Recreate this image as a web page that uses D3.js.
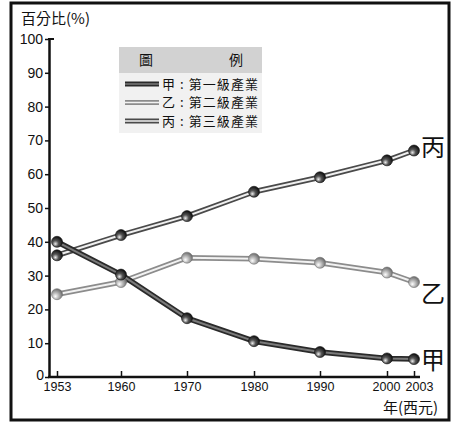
<!DOCTYPE html>
<html lang="zh-Hant">
<head>
  <meta charset="UTF-8">
  <title>產業結構變化</title>
  <script src="https://d3js.org/d3.v7.min.js"></script>
  <style>
    body, html {
      margin: 0;
      padding: 0;
      overflow: hidden;
      background: #fff;
    }
    text {
      font-family: "Noto Sans CJK TC", "Liberation Sans", sans-serif;
      fill: #111;
    }
  </style>
</head>
<body>
  <svg width="457" height="426"></svg>
  <script>
    // Data
    const years = [1953, 1960, 1970, 1980, 1990, 2000, 2003];
    const primary = [40, 30.3, 17.4, 10.6, 7.4, 5.5, 5.3];    // 甲
    const secondary = [24.5, 28.1, 35.3, 35.0, 33.8, 30.9, 28.1]; // 乙
    const tertiary = [36, 42, 47.6, 54.8, 59.1, 64.1, 67];     // 丙
    const yTicks = [0, 10, 20, 30, 40, 50, 60, 70, 80, 90, 100];
    const seriesNames = ['甲', '乙', '丙'];
    const legendLabels = ['甲 : 第一級產業', '乙 : 第二級產業', '丙 : 第三級產業'];

    const series = [
      { name: '甲', values: primary, outer: '#2a2a2a', inner: '#7a7a7a', ball: ['#eeeeee', '#555', '#111'] },
      { name: '乙', values: secondary, outer: '#8c8c8c', inner: '#f2f2f2', ball: ['#ffffff', '#bdbdbd', '#6e6e6e'] },
      { name: '丙', values: tertiary, outer: '#4a4a4a', inner: '#f0f0f0', ball: ['#eeeeee', '#555', '#111'] }
    ];

    const svg = d3.select('svg');

    // Outer frame
    svg.append('rect')
      .attr('x', 11).attr('y', 3)
      .attr('width', 438).attr('height', 417)
      .attr('fill', 'none').attr('stroke', '#111').attr('stroke-width', 3);

    // Scales: the year axis is not evenly spaced in the original
    const x = d3.scaleLinear()
      .domain(years)
      .range([57, 121, 187, 254, 320, 387, 414]);
    const y = d3.scaleLinear().domain([0, 100]).range([377, 39]);

    // Gradients for the ball markers
    const defs = svg.append('defs');
    series.forEach((s, i) => {
      const g = defs.append('radialGradient')
        .attr('id', 'ball' + i)
        .attr('cx', '40%').attr('cy', '62%').attr('r', '60%')
        .attr('fx', '35%').attr('fy', '70%');
      g.append('stop').attr('offset', '0%').attr('stop-color', s.ball[0]);
      g.append('stop').attr('offset', '45%').attr('stop-color', s.ball[1]);
      g.append('stop').attr('offset', '100%').attr('stop-color', s.ball[2]);
    });

    // Y axis
    const yAxis = svg.append('g')
      .attr('transform', 'translate(49,0)')
      .call(d3.axisLeft(y).tickValues(yTicks).tickSize(4).tickSizeOuter(0));
    yAxis.select('.domain').attr('stroke', '#111').attr('stroke-width', 2.5);
    yAxis.selectAll('.tick line').attr('stroke', '#111').attr('stroke-width', 1.5);
    yAxis.selectAll('.tick text')
      .attr('x', -6)
      .style('font-family', '"Liberation Sans", Arial, sans-serif')
      .style('font-size', '14px')
      .attr('fill', '#111');
    // the zero sits low, just left of the first year
    yAxis.selectAll('.tick').filter(d => d === 0).select('text')
      .attr('x', -5).attr('dy', '0.2em');
    // little hook at the top of the axis
    svg.append('line')
      .attr('x1', 48).attr('x2', 54)
      .attr('y1', y(100)).attr('y2', y(100))
      .attr('stroke', '#111').attr('stroke-width', 2);

    // X axis, ticks pointing up
    const xAxis = svg.append('g')
      .attr('transform', 'translate(0,' + y(0) + ')')
      .call(d3.axisBottom(x).tickValues(years).tickFormat(d3.format('d')).tickSize(-6).tickSizeOuter(0));
    xAxis.select('.domain')
      .attr('d', 'M48,0H420')
      .attr('stroke', '#111').attr('stroke-width', 2.5);
    xAxis.selectAll('.tick line').attr('stroke', '#111').attr('stroke-width', 1.5);
    xAxis.selectAll('.tick text')
      .attr('y', 5)
      .style('font-family', '"Liberation Sans", Arial, sans-serif')
      .style('font-size', '12.5px')
      .attr('fill', '#111');
    xAxis.selectAll('.tick').filter(d => d === 2003).select('text').attr('x', 5);
    xAxis.selectAll('.tick').filter(d => d === 2000).select('text').attr('x', -1);

    // Axis titles
    svg.append('text')
      .attr('x', 21).attr('y', 24)
      .style('font-size', '15px')
      .text('百分比(%)');
    svg.append('text')
      .attr('x', 383).attr('y', 413)
      .style('font-size', '15px')
      .text('年(西元)');

    // Lines: a wide dark stroke with a pale centre gives the double line look
    const line = d3.line()
      .x((d, i) => x(years[i]))
      .y(d => y(d));

    const plot = svg.append('g');
    series.slice().reverse().forEach(s => {
      plot.append('path')
        .datum(s.values)
        .attr('d', line)
        .attr('fill', 'none')
        .attr('stroke', s.outer)
        .attr('stroke-width', 5.5)
        .attr('stroke-linejoin', 'round');
      plot.append('path')
        .datum(s.values)
        .attr('d', line)
        .attr('fill', 'none')
        .attr('stroke', s.inner)
        .attr('stroke-width', 2)
        .attr('stroke-linejoin', 'round');
    });

    // Ball markers
    series.slice().reverse().forEach(s => {
      const i = series.indexOf(s);
      plot.selectAll(null)
        .data(s.values)
        .join('circle')
        .attr('cx', (d, k) => x(years[k]))
        .attr('cy', d => y(d))
        .attr('r', 5.5)
        .attr('fill', 'url(#ball' + i + ')')
        .attr('stroke', s.ball[2])
        .attr('stroke-width', 0.6);
    });

    // End labels
    series.forEach(s => {
      const last = s.values[s.values.length - 1];
      const off = s.name === '乙' ? 10 : s.name === '丙' ? -4 : 0;
      svg.append('text')
        .attr('x', 421)
        .attr('y', y(last) + off)
        .attr('dy', '0.4em')
        .style('font-size', '24px')
        .text(s.name);
    });

    // Legend
    const legend = svg.append('g').attr('transform', 'translate(119,47)');
    legend.append('rect')
      .attr('width', 143).attr('height', 86)
      .attr('fill', '#f1f1f1');
    legend.append('rect')
      .attr('width', 143).attr('height', 26)
      .attr('fill', '#d2d2d2');
    legend.append('text')
      .attr('x', 27).attr('y', 18)
      .attr('text-anchor', 'middle')
      .style('font-size', '14px')
      .attr('fill', '#444')
      .text('圖');
    legend.append('text')
      .attr('x', 117).attr('y', 18)
      .attr('text-anchor', 'middle')
      .style('font-size', '14px')
      .attr('fill', '#333')
      .text('例');

    const items = legend.selectAll('.item')
      .data(series)
      .join('g')
      .attr('class', 'item')
      .attr('transform', (d, i) => 'translate(0,' + (37 + i * 18.5) + ')');
    items.append('line')
      .attr('x1', 6).attr('x2', 40)
      .attr('stroke', d => d.outer)
      .attr('stroke-width', 5);
    items.append('line')
      .attr('x1', 6).attr('x2', 40)
      .attr('stroke', d => d.inner)
      .attr('stroke-width', 1.6);
    items.append('text')
      .attr('x', 43)
      .attr('dy', '0.38em')
      .style('font-size', '13px')
      .attr('textLength', 96)
      .text((d, i) => legendLabels[i]);
  </script>
</body>
</html>
